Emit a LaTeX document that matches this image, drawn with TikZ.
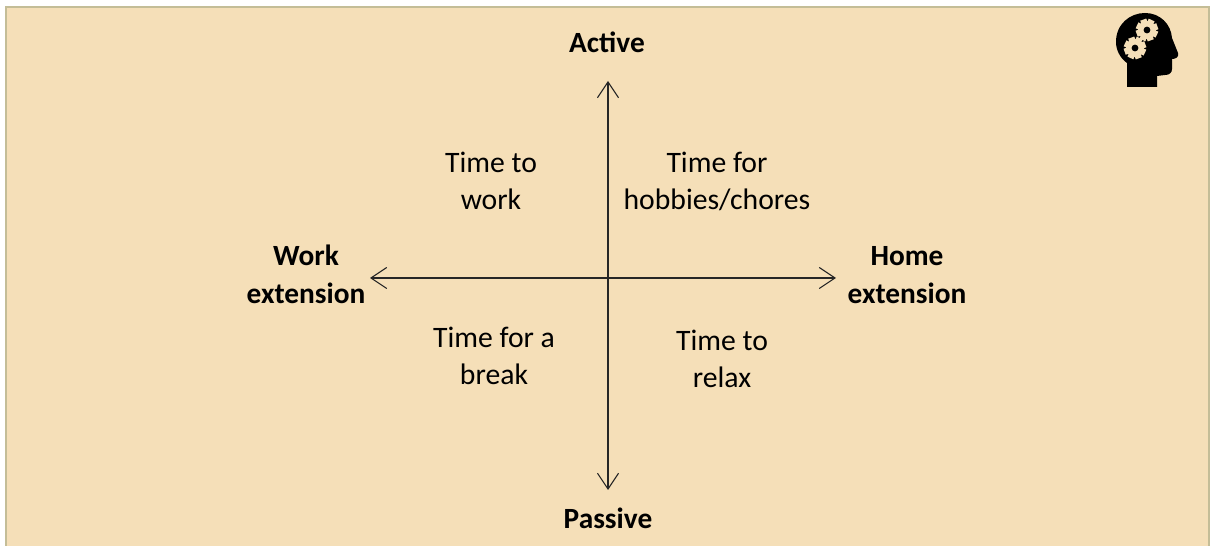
\documentclass[tikz,border=0pt]{standalone}
\usepackage{fontspec}
\setmainfont{Carlito}
\usetikzlibrary{arrows.meta}
\definecolor{panelfill}{HTML}{F5DFB8}
\definecolor{panelline}{HTML}{C4BD97}
\tikzset{
	axis/.style={draw=black!85, line width=0.6pt, {Straight Barb[length=9pt,width=12pt,line width=0.6pt]}-{Straight Barb[length=9pt,width=12pt,line width=0.6pt]}},
	pole/.style={font=\fontsize{16.7}{21.5}\selectfont\bfseries, align=center},
	zone/.style={font=\fontsize{16.9}{21}\selectfont, align=center},
}
\begin{document}
\begin{tikzpicture}[x=0.02cm, y=-0.02cm]
	\useasboundingbox (0,0) rectangle (1215,546);
	% Tafel
	\filldraw[draw=panelline, line width=1.2pt, fill=panelfill] (6,546) -- (6,7) -- (1209,7) -- (1209,546);
	% Pole
	\node[pole] (active) at (607,42) {Active};
	\node[pole] (passive) at (608,518) {Passive};
	\node[pole] (work) at (306,274) {Work\\extension};
	\node[pole] (home) at (907,275) {Home\\extension};
	% Felder
	\node[zone] (topleft) at (491,181) {Time to\\work};
	\node[zone] (topright) at (717,181) {Time for\\hobbies/chores};
	\node[zone] (bottomleft) at (494,356) {Time for a\\break};
	\node[zone] (bottomright) at (722,359) {Time to\\relax};
	% Achsen
	\coordinate (north) at (608,81);
	\coordinate (south) at (608,490);
	\coordinate (west) at (370,278);
	\coordinate (east) at (836,278);
	\draw[axis] (south) -- (north);
	\draw[axis] (west) -- (east);
	% Kopf
	\fill[black] (1127,87) -- (1127,63)
		.. controls (1120,58) and (1116,50) .. (1116,42)
		.. controls (1116,24) and (1130,13) .. (1145,13)
		.. controls (1160,13) and (1171,24) .. (1172,38)
		-- (1178,53) .. controls (1179,57) and (1176,59) .. (1172,59)
		-- (1172,69) .. controls (1172,73) and (1169,75) .. (1165,75)
		-- (1157,76) -- (1157,87) -- cycle;
	% Zahnraeder
	\foreach \cx/\cy in {1147/30, 1135/48} {
		\fill[panelfill] (\cx,\cy) circle (9);
		\foreach \a in {0,45,...,315}
			\fill[panelfill, shift={(\cx,\cy)}, rotate=\a+20] (-3.2,-11) rectangle (3.2,0);
		\fill[black] (\cx,\cy) circle (3.4);
	}
\end{tikzpicture}
\end{document}
